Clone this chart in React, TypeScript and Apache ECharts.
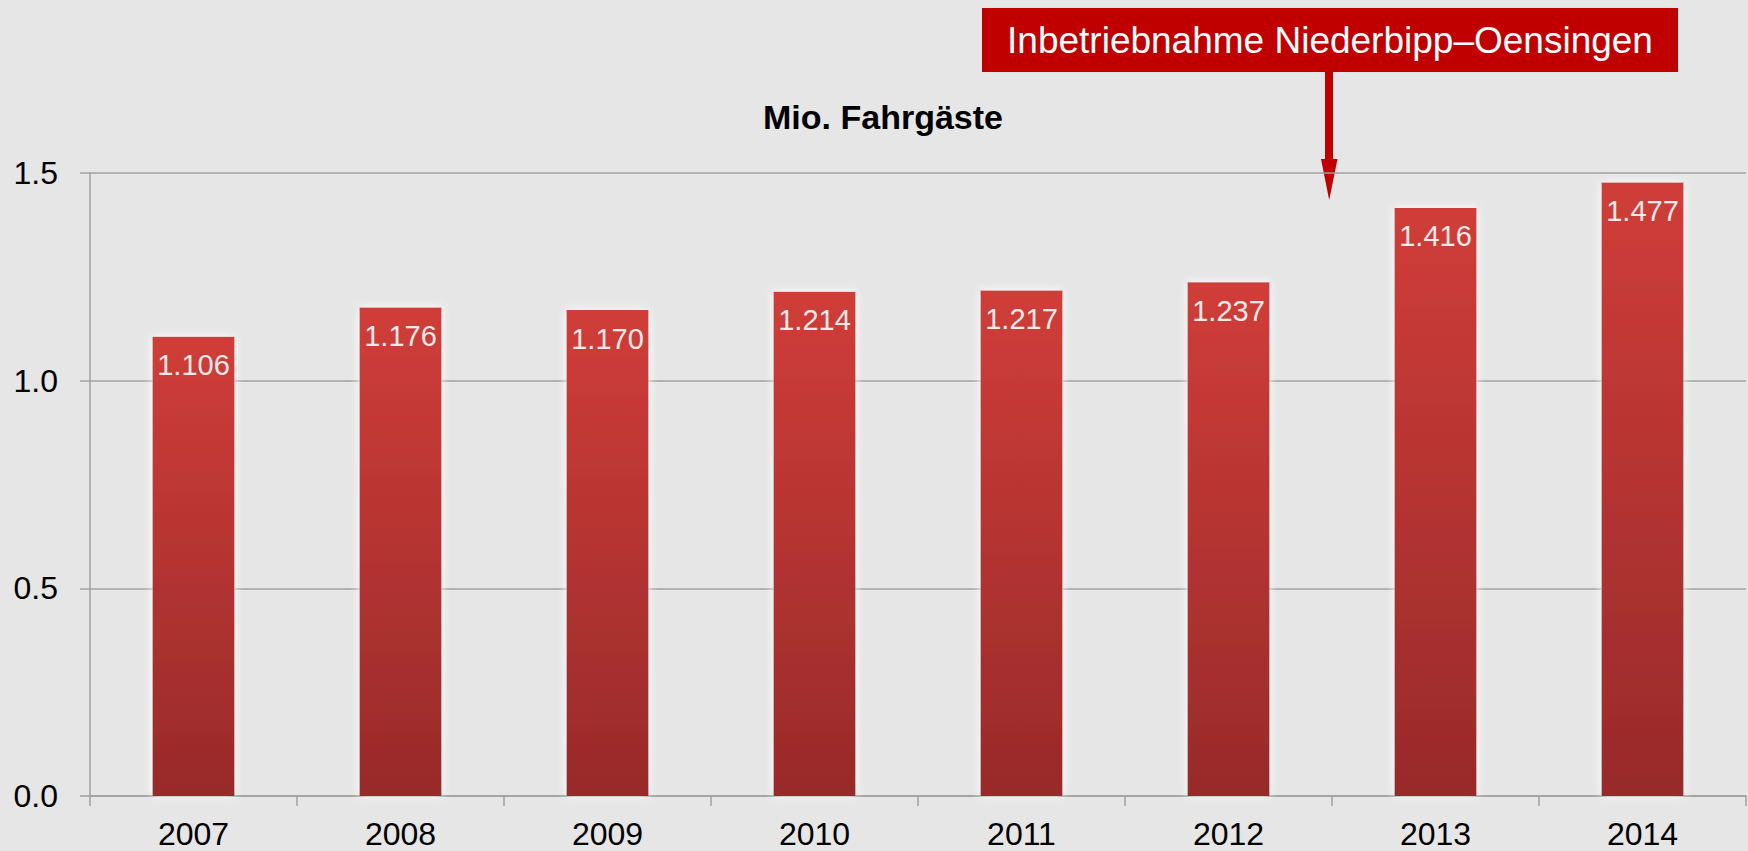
import React, { useEffect, useRef } from "react";
import * as echarts from "echarts";

const years = ["2007", "2008", "2009", "2010", "2011", "2012", "2013", "2014"];
const passengers = [1.106, 1.176, 1.17, 1.214, 1.217, 1.237, 1.416, 1.477];
const yTicks = { min: 0, max: 1.5, interval: 0.5 };
const chartTitle = "Mio. Fahrgäste";
const annotationText = "Inbetriebnahme Niederbipp–Oensingen";

const FONT = "'Liberation Sans', Arial, Helvetica, sans-serif";

export default function App() {
  const ref = useRef<HTMLDivElement>(null);
  useEffect(() => {
    document.body.style.margin = "0";
    const chart = echarts.init(ref.current!, null, { renderer: "svg" });
    chart.setOption({
      animation: false,
      backgroundColor: "#e6e6e6",
      textStyle: { fontFamily: FONT },
      grid: { left: 90, right: 2, top: 173, bottom: 55, containLabel: false },
      xAxis: {
        type: "category",
        data: years,
        boundaryGap: true,
        axisLine: { show: true, lineStyle: { color: "#a0a0a0", width: 1.5 } },
        axisTick: { show: true, length: 10, lineStyle: { color: "#a0a0a0", width: 1.5 } },
        axisLabel: { color: "#000", fontSize: 32, margin: 22, fontFamily: FONT },
        splitLine: { show: false },
      },
      yAxis: {
        type: "value",
        min: yTicks.min,
        max: yTicks.max,
        interval: yTicks.interval,
        axisLine: { show: true, lineStyle: { color: "#a0a0a0", width: 1.5 } },
        axisTick: { show: true, length: 10, lineStyle: { color: "#a0a0a0", width: 1.5 } },
        axisLabel: {
          color: "#000",
          fontSize: 32,
          margin: 32,
          fontFamily: FONT,
          formatter: (v: number) => v.toFixed(1),
        },
        splitLine: { show: true, lineStyle: { color: "#a0a0a0", width: 1.5 } },
      },
      series: [
        {
          type: "bar",
          data: passengers,
          barWidth: 82,
          itemStyle: {
            color: new echarts.graphic.LinearGradient(0, 0, 0, 1, [
              { offset: 0, color: "#d03d39" },
              { offset: 1, color: "#982a2a" },
            ]),
            shadowColor: "rgba(255,255,255,1)",
            shadowBlur: 10,
          },
          label: {
            show: true,
            position: "insideTop",
            distance: 14,
            color: "#f5e9e9",
            fontSize: 29,
            fontFamily: FONT,
            formatter: (p: any) => p.value.toFixed(3),
          },
        },
      ],
      graphic: [
        {
          type: "text",
          x: 883,
          y: 117,
          style: {
            text: chartTitle,
            fontSize: 34,
            fontWeight: "bold",
            fontFamily: FONT,
            fill: "#000",
            align: "center",
            verticalAlign: "middle",
          },
        },
        {
          type: "rect",
          shape: { x: 982, y: 8, width: 696, height: 64 },
          style: { fill: "#c00000" },
        },
        {
          type: "text",
          x: 1330,
          y: 40,
          style: {
            text: annotationText,
            fontSize: 37,
            fontFamily: FONT,
            fill: "#ffffff",
            align: "center",
            verticalAlign: "middle",
          },
        },
        {
          type: "rect",
          shape: { x: 1325, y: 72, width: 8, height: 88 },
          style: { fill: "#c00000" },
        },
        {
          type: "polygon",
          shape: { points: [[1321, 159], [1337.5, 159], [1329.2, 200]] },
          style: { fill: "#c00000" },
        },
      ],
    });
    return () => chart.dispose();
  }, []);
  return (
    <div
      ref={ref}
      style={{ position: "fixed", left: 0, top: 0, width: 1748, height: 851 }}
    />
  );
}
